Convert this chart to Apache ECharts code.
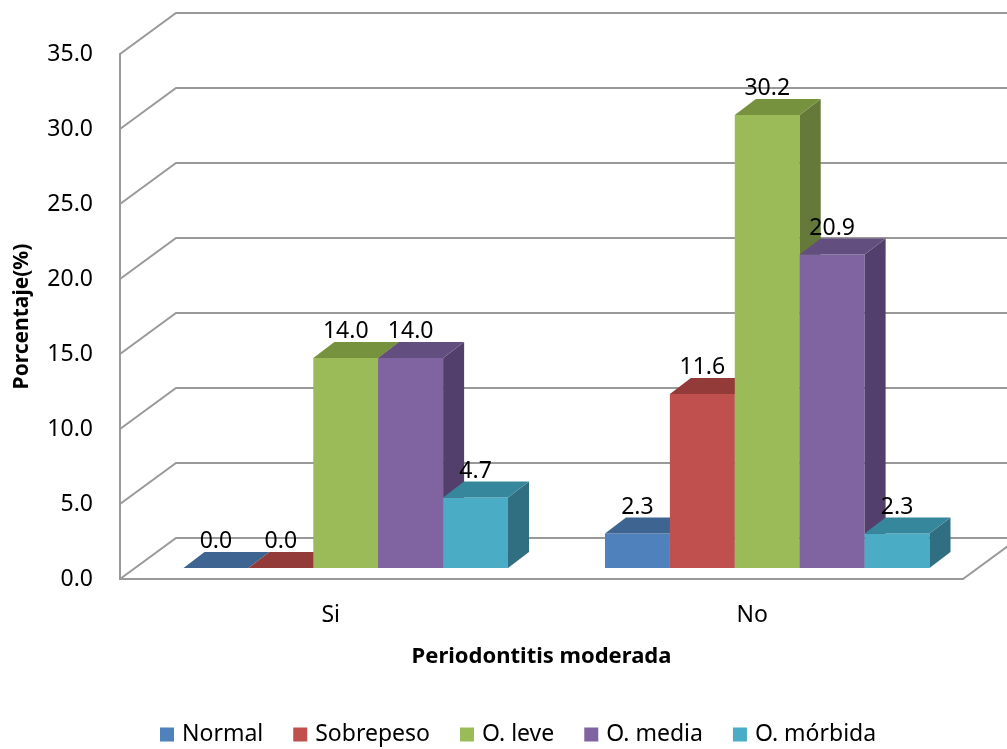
<!DOCTYPE html>
<html>
<head>
<meta charset="utf-8">
<script src="https://cdn.jsdelivr.net/npm/echarts@6/dist/echarts.min.js"></script>
<style>
  html, body { margin: 0; padding: 0; background: #fff; }
  #chart { width: 1007px; height: 749px; }
</style>
</head>
<body>
<div id="chart"></div>
<script>
// datos
const categories = ['Si', 'No'];
const seriesNames = ['Normal', 'Sobrepeso', 'O. leve', 'O. media', 'O. mórbida'];
const normal = [0.0, 2.3];
const sobrepeso = [0.0, 11.6];
const oLeve = [14.0, 30.2];
const oMedia = [14.0, 20.9];
const oMorbida = [4.7, 2.3];
const yTicks = [0, 5, 10, 15, 20, 25, 30, 35];

const seriesValues = [normal, sobrepeso, oLeve, oMedia, oMorbida];

// colores: frente, tapa, lado
const frontColors = ['#4F81BD', '#C0504D', '#9BBB59', '#8064A2', '#4BACC6'];
const topColors = ['#3E6592', '#923B39', '#77923F', '#634E80', '#37879C'];
const sideColors = ['#355780', '#7E3230', '#64793A', '#533F6C', '#306F81'];

const FONT = 'Noto Sans';
const WALL_DX = 56, WALL_DY = -41;   // profundidad del piso / pared
const BAR_FX = 15, BAR_FY = -11;     // desplazamiento de la cara frontal
const BAR_DX = 21, BAR_DY = -16;     // profundidad de la barra
const BAR_FRAC = 0.154;

function barRenderer(k) {
  return function (params, api) {
    const ci = api.value(0);
    const v = api.value(1);
    const base = api.coord([ci, 0]);
    const top = api.coord([ci, v]);
    const band = api.size([1, 0])[0];
    const w = band * BAR_FRAC;
    const x0 = base[0] + (k - 2.5) * w + BAR_FX;
    const yb = base[1] + BAR_FY;
    const yt = top[1] + BAR_FY;
    return {
      type: 'group',
      children: [
        {
          type: 'rect',
          shape: { x: x0, y: yt, width: w, height: yb - yt },
          style: { fill: frontColors[k] }
        },
        {
          type: 'polygon',
          shape: { points: [[x0 + w, yb], [x0 + w, yt], [x0 + w + BAR_DX, yt + BAR_DY], [x0 + w + BAR_DX, yb + BAR_DY]] },
          style: { fill: sideColors[k] }
        },
        {
          type: 'polygon',
          shape: { points: [[x0, yt], [x0 + w, yt], [x0 + w + BAR_DX, yt + BAR_DY], [x0 + BAR_DX, yt + BAR_DY]] },
          style: { fill: topColors[k] }
        },
        {
          type: 'text',
          z2: 100,
          style: {
            text: v.toFixed(1),
            x: x0 + w / 2,
            y: yt + BAR_DY + 1,
            align: 'center',
            verticalAlign: 'bottom',
            fontFamily: FONT,
            fontSize: 23,
            fill: '#000'
          }
        }
      ]
    };
  };
}

function wallRenderer(params, api) {
  const cs = params.coordSys;
  const y = api.coord([0, api.value(1)])[1];
  const children = [{
    type: 'polyline',
    shape: { points: [[cs.x, y], [cs.x + WALL_DX, y + WALL_DY], [cs.x + cs.width + 300, y + WALL_DY]] },
    style: { stroke: '#999', lineWidth: 2, fill: null }
  }];
  if (api.value(1) === 0) {
    children.push({
      type: 'line',
      shape: { x1: cs.x + cs.width, y1: y, x2: cs.x + cs.width + WALL_DX, y2: y + WALL_DY },
      style: { stroke: '#999', lineWidth: 2 }
    });
  }
  return { type: 'group', children: children };
}

const series = [{
  type: 'custom',
  renderItem: wallRenderer,
  encode: { x: 0, y: 1 },
  data: yTicks.map(v => [0, v]),
  silent: true,
  z: 1
}];
seriesValues.forEach((vals, k) => {
  series.push({
    name: seriesNames[k],
    type: 'custom',
    renderItem: barRenderer(k),
    encode: { x: 0, y: 1 },
    itemStyle: { color: frontColors[k] },
    data: vals.map((v, i) => [i, v]),
    z: 2
  });
});

const chart = echarts.init(document.getElementById('chart'));
chart.setOption({
  animation: false,
  textStyle: { fontFamily: FONT },
  grid: { left: 120, right: 44, top: 54, bottom: 170 },
  legend: {
    data: seriesNames,
    top: 718,
    left: 155,
    icon: 'rect',
    itemWidth: 14,
    itemHeight: 14,
    itemGap: 30,
    textStyle: { fontFamily: FONT, fontSize: 23, color: '#000', padding: [0, 0, 0, 3] }
  },
  xAxis: {
    type: 'category',
    data: categories,
    name: 'Periodontitis moderada',
    nameLocation: 'middle',
    nameGap: 67,
    nameTextStyle: { fontFamily: FONT, fontSize: 22, fontWeight: 'bold', color: '#000' },
    axisLine: { show: true, lineStyle: { color: '#999', width: 2 } },
    axisTick: { show: false },
    axisLabel: { margin: 25, fontFamily: FONT, fontSize: 23, color: '#000' },
    splitLine: { show: false }
  },
  yAxis: {
    type: 'value',
    min: 0,
    max: 35,
    interval: 5,
    name: 'Porcentaje(%)',
    nameLocation: 'middle',
    nameRotate: 90,
    nameGap: 87,
    nameTextStyle: { fontFamily: FONT, fontSize: 21, fontWeight: 'bold', color: '#000' },
    axisLine: { show: true, lineStyle: { color: '#999', width: 2 } },
    axisTick: { show: false },
    splitLine: { show: false },
    axisLabel: {
      margin: 27,
      fontFamily: FONT,
      fontSize: 23,
      color: '#000',
      formatter: v => v.toFixed(1)
    }
  },
  series: series
});
</script>
</body>
</html>
